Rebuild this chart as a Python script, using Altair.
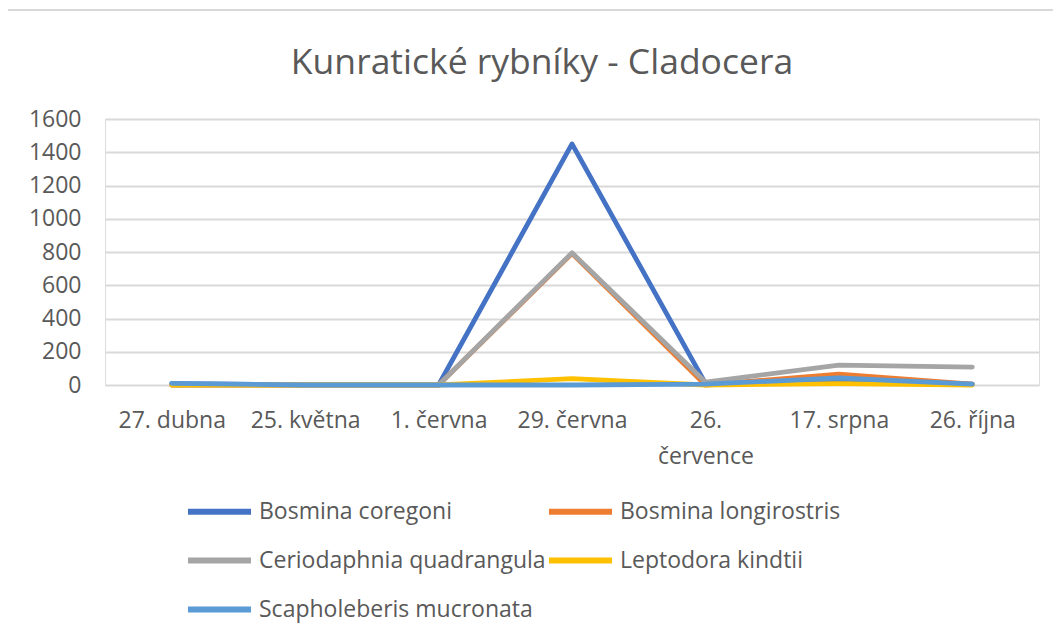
import altair as alt
import pandas as pd

dates = ["27. dubna", "25. května", "1. června", "29. června", "26. července", "17. srpna", "26. října"]
series_names = ["Bosmina coregoni", "Bosmina longirostris", "Ceriodaphnia quadrangula",
                "Leptodora kindtii", "Scapholeberis mucronata"]
bosmina_coregoni = [8, 0, 0, 1450, 10, 30, 5]
bosmina_longirostris = [0, 0, 0, 790, 0, 66, 5]
ceriodaphnia_quadrangula = [0, 0, 0, 795, 18, 120, 108]
leptodora_kindtii = [0, 0, 0, 38, 0, 8, 0]
scapholeberis_mucronata = [10, 0, 0, 0, 5, 42, 5]
colors = ["#4472C4", "#ED7D31", "#A5A5A5", "#FFC000", "#5B9BD5"]

values = [bosmina_coregoni, bosmina_longirostris, ceriodaphnia_quadrangula,
          leptodora_kindtii, scapholeberis_mucronata]
rows = []
for name, vals in zip(series_names, values):
    for i, (d, v) in enumerate(zip(dates, vals)):
        rows.append({"datum": d, "idx": i, "druh": name, "hodnota": v})
df = pd.DataFrame(rows)

FONT = "Open Sans"
GREY = "#595959"

lines = alt.Chart(df).mark_line(strokeWidth=4.8, strokeCap="round", strokeJoin="round").encode(
    x=alt.X("datum:N", sort=dates, title=None,
            scale=alt.Scale(type="point", padding=0.5),
            axis=alt.Axis(labelAngle=0, ticks=False, domain=False, grid=False,
                          labelFont=FONT, labelFontSize=23, labelColor=GREY, labelPadding=24,
                          labelExpr="datum.label == '26. července' ? ['26.', 'července'] : datum.label",
                          labelLineHeight=36)),
    y=alt.Y("hodnota:Q", title=None,
            scale=alt.Scale(domain=[0, 1600], nice=False),
            axis=alt.Axis(values=[0, 200, 400, 600, 800, 1000, 1200, 1400, 1600], format="d",
                          ticks=False, domain=False, grid=True, gridColor="#d9d9d9", gridWidth=2,
                          labelFont=FONT, labelFontSize=23, labelColor=GREY, labelPadding=24)),
    color=alt.Color("druh:N", sort=series_names, title=None,
                    scale=alt.Scale(domain=series_names, range=colors),
                    legend=alt.Legend(orient="none", legendX=80, legendY=358, columns=2,
                                      direction="horizontal",
                                      symbolType="stroke", symbolSize=3969, symbolStrokeWidth=6,
                                      labelFont=FONT, labelFontSize=23, labelColor=GREY,
                                      labelOffset=5, rowPadding=2, columnPadding=-22,
                                      labelLimit=400, padding=0)),
    order=alt.Order("idx:Q"),
)

frame = alt.Chart(pd.DataFrame({"k": [0]})).mark_rect(
    fill="transparent", stroke="#d9d9d9", strokeWidth=2
).encode(x=alt.value(-98), x2=alt.value(1100), y=alt.value(-109), y2=alt.value(700))

chart = alt.layer(frame, lines).properties(
    width=934, height=266,
    title=alt.TitleParams("Kunratické rybníky - Cladocera", font=FONT, fontSize=35.5,
                          fontWeight="normal", color=GREY, anchor="middle", dx=-30, dy=72, offset=0),
    autosize=alt.AutoSizeParams(type="none"),
    padding={"left": 97, "top": 111, "right": 14, "bottom": 251},
).configure_view(stroke=None).configure(background="white")

chart.save("out.html", embed_options={"renderer": "svg", "actions": False})
